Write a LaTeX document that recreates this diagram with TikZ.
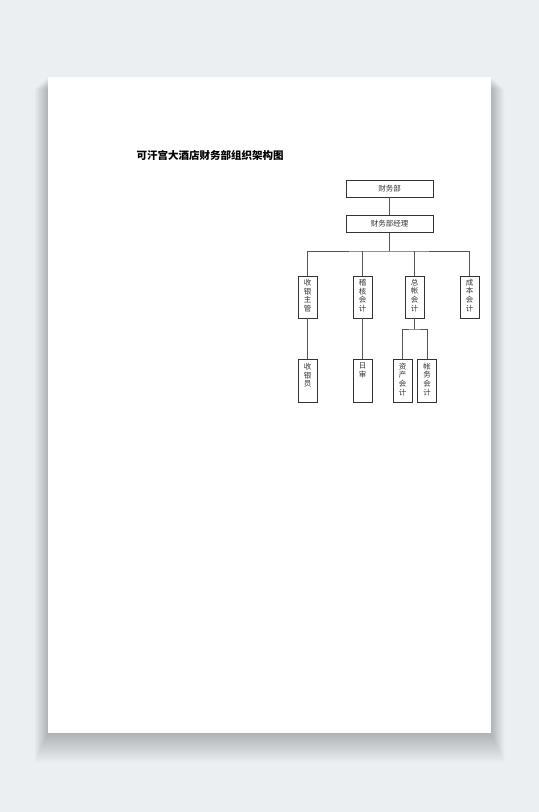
\documentclass[tikz,border=0pt]{standalone}
\usepackage{fontspec}
\newfontfamily\cjk{Noto Sans CJK SC}
\usetikzlibrary{positioning, shadows}

\definecolor{bgcol}{HTML}{ECEFF2}
\definecolor{boxline}{HTML}{333333}
\definecolor{linkcol}{HTML}{555555}

\tikzset{
  post/.style={draw=boxline, fill=white, line width=0.6bp, minimum width=87bp, minimum height=17bp,
    inner sep=0pt, font=\cjk\fontsize{7.5bp}{8bp}\selectfont, text=black!80,
    drop shadow={shadow xshift=0.7bp, shadow yshift=-0.7bp, opacity=0.35}},
  vpost/.style={post, minimum width=19bp, minimum height=#1},
  vtext/.style={anchor=north, align=center, inner sep=0pt, font=\cjk\fontsize{7.5bp}{8.8bp}\selectfont, text=black!80},
  link/.style={draw=linkcol, line width=0.6bp}
}

\begin{document}
\begin{tikzpicture}[x=1bp, y=-1bp, node distance=35.5bp, on grid]
        % background and page
        \fill[bgcol] (0,0) rectangle (539,812);
        \foreach \s in {1,...,30}
          \fill[black, opacity=0.007] (48-0.45*\s,77+0.4*\s) rectangle (491+0.45*\s,733+1.0*\s);
        \fill[white] (48,77) rectangle (491,733);
        \useasboundingbox (0,0) rectangle (539,812);

        \node[anchor=west, font=\cjk\bfseries\fontsize{10.5bp}{12bp}\selectfont] (title) at (133,155) {可汗宫大酒店财务部组织架构图};

        \node[post]   (dept)   at (389.5,188.5)       {财务部};
        \node[post]   (mgr)    [below=of dept]        {财务部经理};

        \node[vpost=42bp] (syzg) [below left=73bp and 82bp of mgr]  {};
        \node[vpost=42bp] (jhkj) [right=55bp of syzg]  {};
        \node[vpost=42bp] (zzkj) [right=52bp of jhkj]  {};
        \node[vpost=42bp] (cbkj) [right=55bp of zzkj]  {};

        \node[vpost=43bp] (syy)  [below=83.5bp of syzg] {};
        \node[vpost=43bp] (rs)   [below=83.5bp of jhkj] {};
        \node[vpost=43bp] (zckj) [below left=83.5bp and 12bp of zzkj] {};
        \node[vpost=43bp] (zwkj) [right=24.5bp of zckj] {};

        \node[vtext] at ([yshift=-3bp]syzg.north) {收\\银\\主\\管};
        \node[vtext] at ([yshift=-3bp]jhkj.north) {稽\\核\\会\\计};
        \node[vtext] at ([yshift=-3bp]zzkj.north) {总\\帐\\会\\计};
        \node[vtext] at ([yshift=-3bp]cbkj.north) {成\\本\\会\\计};
        \node[vtext] at ([yshift=-4bp]syy.north)  {收\\银\\员};
        \node[vtext] at ([yshift=-4bp]rs.north)   {日\\审};
        \node[vtext] at ([yshift=-4bp]zckj.north) {资\\产\\会\\计};
        \node[vtext] at ([yshift=-4bp]zwkj.north) {帐\\务\\会\\计};

        \coordinate (bar)   at (389.5,251);
        \coordinate (split) at (414.5,329);

        \path[link] (dept) edge (mgr)
        (mgr) edge (bar)
        (syzg) edge (syy)
        (jhkj) edge (rs)
        (zzkj) edge (split)
        ;
        \draw[link] (syzg) |- (bar) -| (cbkj);
        \draw[link] (jhkj) -- (jhkj |- bar);
        \draw[link] (zzkj) -- (zzkj |- bar);
        \draw[link] (zckj) |- (split) -| (zwkj);
    \end{tikzpicture}
\end{document}
